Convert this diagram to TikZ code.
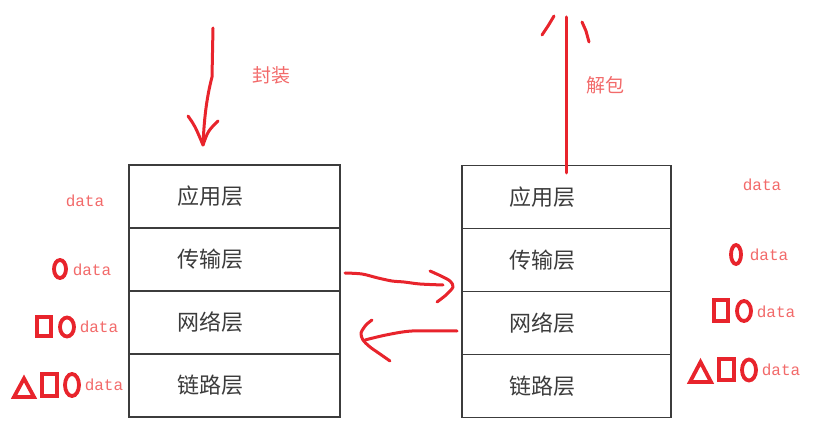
\documentclass[tikz,border=0pt]{standalone}
\usepackage{fontspec}
\newfontfamily\cjk{Noto Sans CJK SC}
\newfontfamily\datafont{Liberation Mono}
\usetikzlibrary{positioning}
\definecolor{inkred}{HTML}{E8242C}
\definecolor{notered}{HTML}{F26A6A}
\definecolor{layergray}{HTML}{3C3C3C}
\begin{document}
\begin{tikzpicture}[x=0.5pt,y=-0.5pt,
  layerbox/.style={draw=layergray,line width=0.9pt,minimum height=31.5pt,inner sep=0pt,outer sep=0pt},
  layerlabel/.style={text=layergray,font=\cjk\fontsize{11}{13}\selectfont,inner sep=0pt},
  datalabel/.style={text=notered,font=\datafont\fontsize{8}{10}\selectfont,inner sep=0pt},
  notelabel/.style={text=notered,font=\cjk\fontsize{9.5}{11}\selectfont,inner sep=0pt},
  redpen/.style={draw=inkred,line width=1.5pt,line cap=round,line join=round},
  tagpen/.style={draw=inkred,line width=1.9pt}]
\useasboundingbox (0,0) rectangle (839,448);
% the two layer stacks
\node[layerbox,minimum width=105.5pt] (la) at (234.5,196.5) {};
\node[layerbox,minimum width=105.5pt,below=0pt of la] (lb) {};
\node[layerbox,minimum width=105.5pt,below=0pt of lb] (lc) {};
\node[layerbox,minimum width=105.5pt,below=0pt of lc] (ld) {};
\node[layerbox,minimum width=104.5pt] (ra) at (566.5,197) {};
\node[layerbox,minimum width=104.5pt,below=0pt of ra] (rb) {};
\node[layerbox,minimum width=104.5pt,below=0pt of rb] (rc) {};
\node[layerbox,minimum width=104.5pt,below=0pt of rc] (rd) {};
\foreach \s in {l,r}
  \foreach \n/\t in {a/应用层,b/传输层,c/网络层,d/链路层}
    \node[layerlabel] (\s\n text) at ([xshift=-12pt]\s\n.center) {\t};
% encapsulation, going down
\coordinate (enctop) at (213,28);
\coordinate (enctip) at (203,145);
\draw[redpen] (enctop) -- (212,77) .. controls (206,100) and (204,122) .. (enctip);
\draw[redpen] (188,116) .. controls (195,126) .. (enctip) .. controls (208,131) .. (218,121);
\node[notelabel] (enc) at (271,75) {封装};
% decapsulation, going up
\coordinate (decfoot) at (566,173);
\coordinate (dectop) at (566,17);
\draw[redpen] (decfoot) -- (dectop);
\draw[redpen] (542,35) -- (548,26) -- (554,16);
\draw[redpen] (582,22) -- (586,31) -- (589,42);
\node[notelabel] (dec) at (605,85) {解包};
% between the stacks
\coordinate (sendfrom) at (345,273);
\coordinate (sendtip) at (453,287);
\draw[redpen] plot[smooth] coordinates {(sendfrom) (362,274) (378,278) (392,281) (404,282) (420,284) (443,285)};
\draw[redpen] plot[smooth] coordinates {(430,271) (441,276) (450,281) (sendtip) (446,295) (437,302)};
\coordinate (backfrom) at (457,331);
\coordinate (backtip) at (361,333);
\draw[redpen] plot[smooth] coordinates {(backfrom) (412,331) (386,335) (365,340)};
\draw[redpen] plot[smooth] coordinates {(372,320) (366,325) (backtip) (363,340) (370,347) (380,354) (390,361)};
% headers added on the left
\node[datalabel] (ldata a) at (85,201) {data};
\draw[tagpen] (60,269) ellipse (6 and 9);
\node[datalabel] (ldata b) at (92,270) {data};
\draw[tagpen] (37,317) rectangle (51,336);
\draw[tagpen] (67,327) ellipse (7 and 9.5);
\node[datalabel] (ldata c) at (99,327) {data};
\draw[tagpen] (14,397) -- (24,378.5) -- (34,397) -- cycle;
\draw[tagpen] (42,374) rectangle (57,396);
\draw[tagpen] (72,385) ellipse (7 and 11);
\node[datalabel] (ldata d) at (104,385) {data};
% headers stripped on the right
\node[datalabel] (rdata a) at (762,185) {data};
\draw[tagpen] (736,254.5) ellipse (5 and 9.5);
\node[datalabel] (rdata b) at (769,255) {data};
\draw[tagpen] (714,300) rectangle (728,321);
\draw[tagpen] (744,311) ellipse (7 and 10);
\node[datalabel] (rdata c) at (776,312) {data};
\draw[tagpen] (690,382) -- (700.5,362) -- (711,382) -- cycle;
\draw[tagpen] (719,359) rectangle (734,380);
\draw[tagpen] (749,370) ellipse (7 and 10.5);
\node[datalabel] (rdata d) at (781,370) {data};
\end{tikzpicture}
\end{document}
